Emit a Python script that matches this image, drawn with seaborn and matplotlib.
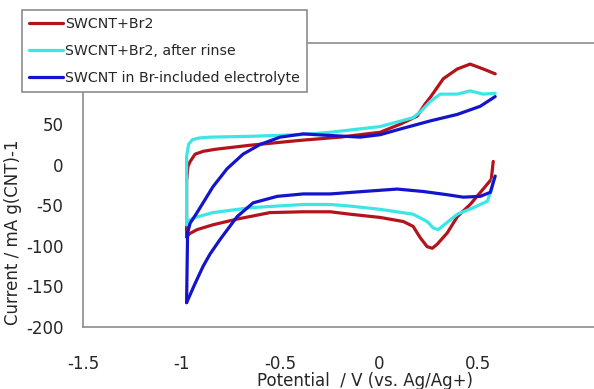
import matplotlib
matplotlib.use("Agg")
import matplotlib.pyplot as plt
import pandas as pd
import seaborn as sns

# Cyclic voltammograms (V vs Ag/Ag+, mA g(CNT)-1)
# each curve is split into the anodic (forward) and cathodic (reverse) sweep
red_fwd_v = [-0.975, -0.975, -0.968, -0.957, -0.932, -0.891, -0.83, -0.653, -0.40,
             -0.197, 0.006, 0.108, 0.194, 0.234, 0.260, 0.326, 0.397, 0.462, 0.528, 0.589]
red_fwd_i = [-89, -20, -2, 4, 13, 16.5, 19, 24, 30, 34, 40, 50, 60, 75, 83, 106, 118, 124, 118, 112]
red_rev_v = [0.579, 0.569, 0.528, 0.462, 0.397, 0.346, 0.295, 0.270, 0.244, 0.209, 0.173,
             0.123, 0.006, -0.146, -0.247, -0.384, -0.552, -0.719, -0.841, -0.922, -0.960, -0.975]
red_rev_i = [4, -18, -30, -49, -64, -84, -98, -103, -101, -90, -76, -70, -65, -61, -58, -58,
             -59, -67, -74, -80, -85, -89]

cyan_fwd_v = [-0.975, -0.975, -0.965, -0.945, -0.91, -0.856, -0.653, -0.40, -0.247, 0.006,
              0.173, 0.209, 0.260, 0.310, 0.397, 0.462, 0.528, 0.589]
cyan_fwd_i = [-74, 10, 25, 31, 33, 34, 35, 37, 40, 47, 58, 65, 78, 87, 87, 91, 87, 88]
cyan_rev_v = [0.579, 0.574, 0.549, 0.478, 0.397, 0.346, 0.300, 0.275, 0.244, 0.173, 0.006,
              -0.146, -0.247, -0.384, -0.653, -0.841, -0.932, -0.965, -0.975]
cyan_rev_i = [-18, -28, -45, -53, -61, -71, -80, -78, -70, -61, -55, -51, -49, -49, -53, -59,
              -65, -69, -74]

blue_fwd_v = [-0.975, -0.970, -0.957, -0.922, -0.841, -0.770, -0.689, -0.602, -0.501, -0.384,
              -0.247, -0.095, 0.006, 0.108, 0.260, 0.397, 0.513, 0.589]
blue_fwd_i = [-170, -84, -72, -59, -27, -5, 13, 25, 34, 38, 36, 34, 37, 44, 54, 62, 72, 84]
blue_rev_v = [0.589, 0.564, 0.513, 0.427, 0.346, 0.224, 0.092, -0.080, -0.247, -0.384,
              -0.516, -0.638, -0.719, -0.805, -0.856, -0.891, -0.935, -0.975]
blue_rev_i = [-14, -34, -39, -40, -37, -33, -30, -33, -36, -36, -39, -47, -64, -92, -110,
              -125, -148, -170]

labels = ["SWCNT+Br2", "SWCNT+Br2, after rinse", "SWCNT in Br-included electrolyte"]
colors = ["#b3141c", "#3de6e6", "#1414cc"]

x_ticks = [-1.5, -1, -0.5, 0, 0.5]
x_tick_labels = ["-1.5", "-1", "-0.5", "0", "0.5"]
y_ticks = [-200, -150, -100, -50, 0, 50, 100, 150]

sns.set_style("white")
plt.rcParams["font.family"] = ["DejaVu Sans"]
plt.rcParams["axes.unicode_minus"] = False

fig = plt.figure(figsize=(5.94, 3.89), dpi=100)
ax = fig.add_axes([83 / 594, 62 / 389, 517 / 594, 284 / 389])

curves = [
    (red_fwd_v, red_fwd_i, red_rev_v, red_rev_i),
    (cyan_fwd_v, cyan_fwd_i, cyan_rev_v, cyan_rev_i),
    (blue_fwd_v, blue_fwd_i, blue_rev_v, blue_rev_i),
]
for (fv, fi, rv, ri), lab, col in zip(curves, labels, colors):
    fwd = pd.DataFrame({"potential": fv, "current": fi})
    rev = pd.DataFrame({"potential": rv, "current": ri})
    sns.lineplot(data=fwd, x="potential", y="current", sort=False, estimator=None,
                 color=col, linewidth=2.3, label=lab, ax=ax)
    sns.lineplot(data=rev, x="potential", y="current", sort=False, estimator=None,
                 color=col, linewidth=2.3, label="_nolegend_", ax=ax)

ax.set_xlim(-1.5, 1.12)
ax.set_ylim(-200, 150)
ax.set_xticks(x_ticks)
ax.set_xticklabels(x_tick_labels)
ax.set_yticks(y_ticks)
ax.set_yticklabels([str(v) for v in y_ticks])
ax.tick_params(axis="x", direction="in", length=5, width=1, color="#808080",
               pad=20, labelsize=12)
ax.tick_params(axis="y", length=0, pad=14, labelsize=12)

for side in ["left", "bottom", "top", "right"]:
    ax.spines[side].set_color("#8c8c8c")
    ax.spines[side].set_linewidth(1.2)

ax.set_xlabel("Potential  / V (vs. Ag/Ag+)", fontsize=12)
ax.set_ylabel("Current / mA g(CNT)-1", fontsize=12)
ax.xaxis.set_label_coords(0.545, -0.158)
ax.yaxis.set_label_coords(-0.118, 0.335)

leg = ax.legend(loc="lower left", bbox_to_anchor=(22 / 594, 1 - 92 / 389),
                bbox_transform=fig.transFigure, fontsize=10.2, frameon=True,
                fancybox=False, framealpha=1, edgecolor="#8c8c8c",
                handlelength=2.4, handletextpad=0.15, borderaxespad=0,
                labelspacing=0.9, borderpad=0.5)
leg.get_frame().set_linewidth(1.2)
leg.set_zorder(10)

fig.savefig("out.png", dpi=100)
